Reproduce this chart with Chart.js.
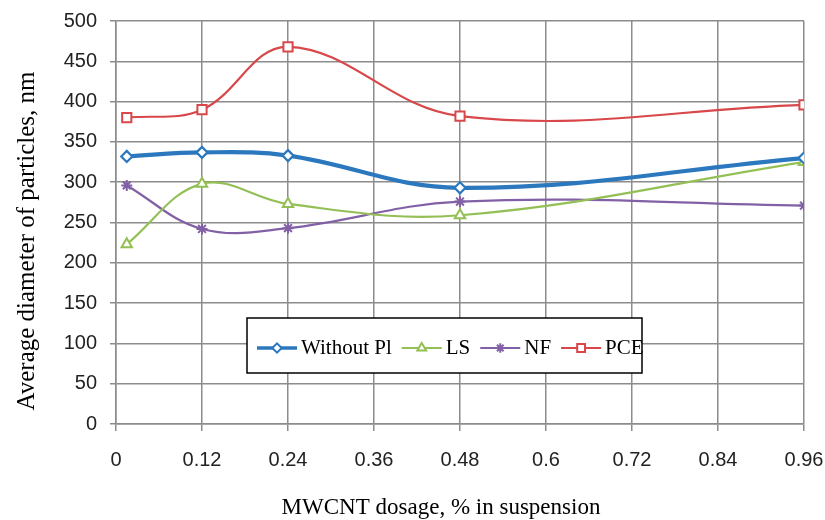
<!DOCTYPE html>
<html>
<head>
<meta charset="utf-8">
<script src="https://cdn.jsdelivr.net/npm/chart.js@4/dist/chart.umd.min.js"></script>
<style>
  html, body { margin: 0; padding: 0; background: #fff; }
  #wrap { width: 825px; height: 520px; }
</style>
</head>
<body>
<div id="wrap"><canvas id="c" width="825" height="520"></canvas></div>
<script>
// ---- data ----
const dosage = [0.015, 0.12, 0.24, 0.48, 0.96];
const withoutPl = [332, 337, 333, 293, 330];
const ls = [223, 298, 273, 259, 325];
const nf = [296, 242, 243, 276, 271];
const pce = [380, 390, 468, 382, 396];
const seriesNames = ['Without Pl', 'LS', 'NF', 'PCE'];
const xTickValues = [0, 0.12, 0.24, 0.36, 0.48, 0.6, 0.72, 0.84, 0.96];
const yTickValues = [0, 50, 100, 150, 200, 250, 300, 350, 400, 450, 500];
const xTitle = 'MWCNT dosage, % in suspension';
const yTitle = 'Average diameter of particles, nm';

// ---- styles ----
const styles = [
  { color: '#2b78be', width: 4.2, point: 'rectRot', radius: 5.5, pbw: 2.2 },
  { color: '#93bf55', width: 2.2, point: 'triangle', radius: 6, pbw: 2 },
  { color: '#8260a6', width: 2.2, point: 'star', radius: 5.5, pbw: 2 },
  { color: '#d8474a', width: 2.2, point: 'rect', radius: 6.5, pbw: 2 }
];
const values = [withoutPl, ls, nf, pce];

const datasets = values.map((vals, i) => ({
  label: seriesNames[i],
  data: vals.map((v, j) => ({ x: dosage[j], y: v })),
  borderColor: styles[i].color,
  borderWidth: styles[i].width,
  pointStyle: styles[i].point,
  pointRadius: styles[i].radius,
  pointBorderWidth: styles[i].pbw,
  pointBorderColor: styles[i].color,
  pointBackgroundColor: '#ffffff',
  tension: 0.38,
  fill: false
}));

const gridColor = '#8c8c8c';

const legendPlugin = {
  id: 'boxLegend',
  afterDraw(chart) {
    const ctx = chart.ctx;
    const ca = chart.chartArea;
    const bx = ca.left + 131, by = ca.top + 297, bw = 395, bh = 55;
    ctx.save();
    ctx.fillStyle = '#ffffff';
    ctx.fillRect(bx, by, bw, bh);
    ctx.strokeStyle = '#000000';
    ctx.lineWidth = 1.5;
    ctx.strokeRect(bx, by, bw, bh);
    ctx.font = '21px "Liberation Serif", serif';
    ctx.textBaseline = 'middle';
    ctx.textAlign = 'left';
    let x = bx + 10;
    const cy = by + bh / 2 + 2.5;
    chart.data.datasets.forEach((ds) => {
      ctx.strokeStyle = ds.borderColor;
      ctx.lineWidth = Math.min(ds.borderWidth, 3.5);
      ctx.beginPath();
      ctx.moveTo(x, cy);
      ctx.lineTo(x + 40, cy);
      ctx.stroke();
      ctx.fillStyle = '#ffffff';
      ctx.strokeStyle = ds.borderColor;
      ctx.lineWidth = 2;
      Chart.helpers.drawPoint(ctx, { pointStyle: ds.pointStyle, radius: ds.pointRadius * 0.85, borderWidth: 2, rotation: 0 }, x + 20, cy);
      ctx.fillStyle = '#000000';
      ctx.fillText(ds.label, x + 44, cy);
      x += 44 + ctx.measureText(ds.label).width + 10;
    });
    ctx.restore();
  }
};

const titlesPlugin = {
  id: 'axisTitles',
  afterDraw(chart) {
    const ctx = chart.ctx;
    ctx.save();
    ctx.fillStyle = '#000';
    ctx.textAlign = 'center';
    ctx.textBaseline = 'alphabetic';
    ctx.font = '23px "Liberation Serif", serif';
    ctx.fillText(xTitle, 441, 514);
    ctx.translate(34, 241);
    ctx.rotate(-Math.PI / 2);
    ctx.font = '25px "Liberation Serif", serif';
    ctx.fillText(yTitle, 0, 0);
    ctx.restore();
  }
};

new Chart(document.getElementById('c'), {
  type: 'line',
  data: { datasets },
  plugins: [legendPlugin, titlesPlugin],
  options: {
    responsive: false,
    animation: false,
    layout: { padding: { left: 0, right: 0, top: 21, bottom: 0 } },
    plugins: { legend: { display: false }, tooltip: { enabled: false } },
    scales: {
      x: {
        type: 'linear',
        min: 0, max: 0.96,
        afterBuildTicks: (s) => { s.ticks = xTickValues.map(v => ({ value: v })); },
        afterFit: (s) => { s.height = 96; s.paddingRight = 21; s.paddingLeft = 0; },
        ticks: {
          callback: (v) => String(v),
          font: { family: '"Liberation Sans", Arial, sans-serif', size: 20 },
          color: '#222',
          padding: 17,
          maxRotation: 0,
          autoSkip: false
        },
        grid: { color: gridColor, lineWidth: 1.5, tickLength: 7, tickColor: gridColor },
        border: { color: gridColor, width: 1.5 }
      },
      y: {
        min: 0, max: 500,
        afterBuildTicks: (s) => { s.ticks = yTickValues.map(v => ({ value: v })); },
        afterFit: (s) => { s.width = 116; s.paddingTop = 0; s.paddingBottom = 0; },
        ticks: {
          font: { family: '"Liberation Sans", Arial, sans-serif', size: 20 },
          color: '#222',
          padding: 13
        },
        grid: { color: gridColor, lineWidth: 1.5, tickLength: 6, tickColor: gridColor },
        border: { color: gridColor, width: 1.5 }
      }
    }
  }
});
</script>
</body>
</html>
